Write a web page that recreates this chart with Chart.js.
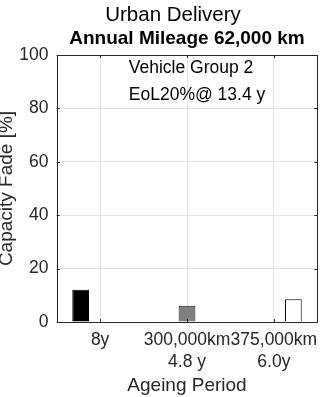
<!DOCTYPE html>
<html>
<head>
<meta charset="utf-8">
<script src="https://cdn.jsdelivr.net/npm/chart.js@4/dist/chart.umd.min.js"></script>
<style>
  html, body { margin: 0; padding: 0; background: #fff; }
  #wrap { width: 327px; height: 397px; }
</style>
</head>
<body>
<div id="wrap"><canvas id="c" width="327" height="397"></canvas></div>
<script>
// Ageing periods on the x axis (multi-line labels)
const periods = [['8y'], ['300,000km', '4.8 y'], ['375,000km', '6.0y']];

// Capacity fade [%] per scenario; each scenario occupies its own slot in the group
const calendarFade = [12.1, null, null];
const mileage300kFade = [null, 6.1, null];
const mileage375kFade = [null, null, 8.5];

// Y axis range and step
const yTicks = [0, 20, 40, 60, 80, 100];

// Heading lines and the note printed inside the plot
const headingLines = ['Urban Delivery', 'Annual Mileage 62,000 km'];
const noteLines = ['Vehicle Group 2', 'EoL20%@ 13.4 y'];

const FONT = '"Liberation Sans", Arial, Helvetica, sans-serif';
const INK = '#262626';

// Heading, box outline, inward tick marks and the in-plot note
const axesFrame = {
  id: 'axesFrame',
  afterDraw(chart) {
    const { ctx, chartArea: a, scales: { x, y } } = chart;
    ctx.save();

    // heading, centred over the plot area
    const cx = (a.left + a.right) / 2;
    ctx.fillStyle = '#000';
    ctx.textAlign = 'center';
    ctx.textBaseline = 'alphabetic';
    ctx.font = 'normal 20.5px ' + FONT;
    ctx.fillText(headingLines[0], cx - 14, a.top - 34.3);
    ctx.font = 'bold 19px ' + FONT;
    ctx.fillText(headingLines[1], cx, a.top - 10.7);
    ctx.restore();
  },
  afterDatasetsDraw(chart) {
    const { ctx, chartArea: a, scales: { x, y } } = chart;
    ctx.save();
    ctx.strokeStyle = INK;
    ctx.lineWidth = 1;
    ctx.beginPath();
    const tl = 3;
    x.ticks.forEach((t, i) => {
      const px = Math.round(x.getPixelForTick(i)) + 0.5;
      ctx.moveTo(px, a.bottom); ctx.lineTo(px, a.bottom - tl);
      ctx.moveTo(px, a.top); ctx.lineTo(px, a.top + tl);
    });
    y.ticks.forEach((t, i) => {
      const py = Math.round(y.getPixelForTick(i)) + 0.5;
      ctx.moveTo(a.left, py); ctx.lineTo(a.left + tl, py);
      ctx.moveTo(a.right, py); ctx.lineTo(a.right - tl, py);
    });
    ctx.stroke();
    ctx.strokeRect(Math.round(a.left) + 0.5, Math.round(a.top) + 0.5,
                   Math.round(a.right) - Math.round(a.left), Math.round(a.bottom) - Math.round(a.top));

    // note text, anchored in data coordinates
    ctx.fillStyle = '#000';
    ctx.font = '17.5px ' + FONT;
    ctx.textAlign = 'left';
    ctx.textBaseline = 'middle';
    const nx = x.getPixelForValue(0.33);
    ctx.fillText(noteLines[0], nx, y.getPixelForValue(95));
    ctx.fillText(noteLines[1], nx, y.getPixelForValue(85));
    ctx.restore();
  }
};

new Chart(document.getElementById('c'), {
  type: 'bar',
  data: {
    labels: periods,
    datasets: [
      { data: calendarFade, backgroundColor: '#000000', borderColor: '#000000', borderWidth: 1 },
      { data: mileage300kFade, backgroundColor: '#808080', borderColor: '#1a1a1a', borderWidth: 1 },
      { data: mileage375kFade, backgroundColor: '#ffffff', borderColor: '#000000', borderWidth: 1 }
    ]
  },
  options: {
    responsive: false,
    animation: false,
    devicePixelRatio: 1,
    categoryPercentage: 0.673,
    barPercentage: 0.86,
    layout: { padding: { left: 0, right: 9.7, top: 55, bottom: 0 } },
    plugins: {
      legend: { display: false },
      tooltip: { enabled: false },
      title: { display: false },
      subtitle: { display: false }
    },
    scales: {
      x: {
        type: 'category',
        offset: true,
        grid: { offset: false, color: '#e3e3e3', drawTicks: false },
        border: { display: false },
        ticks: {
          color: INK,
          font: { family: FONT, size: 17.5, lineHeight: 1.234 },
          padding: 7.8,
          autoSkip: false,
          minRotation: 0,
          maxRotation: 0
        },
        title: {
          display: true,
          text: 'Ageing Period',
          color: INK,
          font: { family: FONT, size: 19, lineHeight: 1.2 },
          padding: { top: 0, bottom: 0 }
        },
        afterFit(scale) { scale.height = 75; }
      },
      y: {
        min: 0,
        max: 100,
        afterBuildTicks(scale) { scale.ticks = yTicks.map(v => ({ value: v })); },
        grid: { color: '#e3e3e3', drawTicks: false },
        border: { display: false },
        ticks: {
          color: INK,
          font: { family: FONT, size: 17.5 },
          padding: 8.2
        },
        title: {
          display: true,
          text: 'Capacity Fade [%]',
          color: INK,
          font: { family: FONT, size: 19, lineHeight: 1.2 },
          padding: { top: -5, bottom: 0 }
        },
        afterFit(scale) { scale.width = 56.7; }
      }
    }
  },
  plugins: [axesFrame]
});
</script>
</body>
</html>
